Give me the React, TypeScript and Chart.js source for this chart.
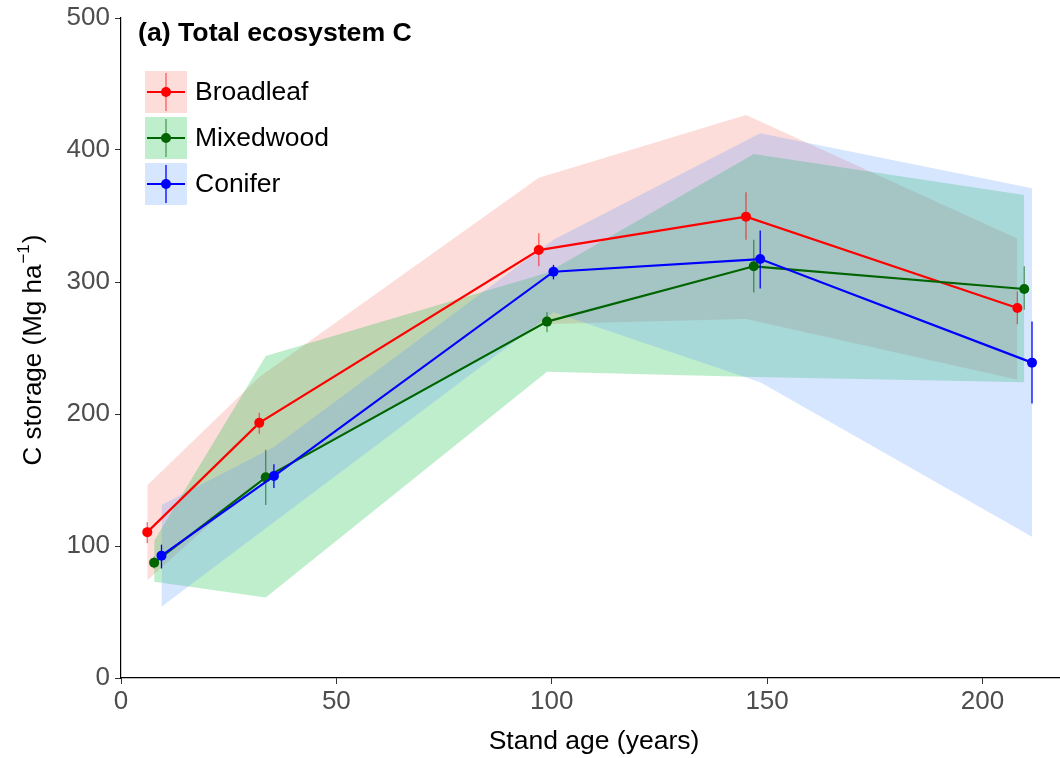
import { useEffect, useRef } from "react";
import { Chart, registerables } from "chart.js";
Chart.register(...registerables);

const FONT = '"Liberation Sans", Arial, Helvetica, sans-serif';

// Tick values
const xTicks = [0, 50, 100, 150, 200];
const yTicks = [0, 100, 200, 300, 400, 500];

// Broadleaf
const ageBroadleaf = [6.1, 32.1, 97.0, 145.1, 208.1];
const meanBroadleaf = [110.5, 193.3, 324.2, 349.5, 280.3];
const errLoBroadleaf = [102, 185, 312, 332, 268];
const errHiBroadleaf = [118, 201, 337, 368, 293];
const rangeHiBroadleaf = [146, 228, 379, 426.5, 333];
const rangeLoBroadleaf = [74, 150, 268, 272, 226];

// Mixedwood
const ageMixedwood = [7.7, 33.6, 98.9, 146.9, 209.7];
const meanMixedwood = [87.4, 152, 270, 311.9, 294.7];
const errLoMixedwood = [83, 131, 262, 292, 279];
const errHiMixedwood = [92, 173, 277, 332, 312];
const rangeHiMixedwood = [104, 244, 307, 397, 366];
const rangeLoMixedwood = [73, 61, 232, 228, 224];

// Conifer
const ageConifer = [9.4, 35.5, 100.4, 148.4, 211.5];
const meanConifer = [92.7, 153, 307.8, 317.4, 238.9];
const errLoConifer = [83, 144, 302, 295, 208];
const errHiConifer = [101, 162, 313, 339, 270];
const rangeHiConifer = [131, 175, 332, 412.6, 371];
const rangeLoConifer = [54, 118, 277, 224, 107];

const seriesNames = ["Broadleaf", "Mixedwood", "Conifer"];
const lineColors = ["#FF0000", "#006400", "#0000FF"];
const ribbonColors = [
  "rgba(248,118,109,0.25)",
  "rgba(0,186,56,0.25)",
  "rgba(97,156,255,0.25)",
];

const pts = (xs: number[], ys: number[]) => xs.map((x, i) => ({ x, y: ys[i] }));

const series = [
  { age: ageBroadleaf, mean: meanBroadleaf, lo: errLoBroadleaf, hi: errHiBroadleaf, rHi: rangeHiBroadleaf, rLo: rangeLoBroadleaf },
  { age: ageMixedwood, mean: meanMixedwood, lo: errLoMixedwood, hi: errHiMixedwood, rHi: rangeHiMixedwood, rLo: rangeLoMixedwood },
  { age: ageConifer, mean: meanConifer, lo: errLoConifer, hi: errHiConifer, rHi: rangeHiConifer, rLo: rangeLoConifer },
];

export default function App() {
  const ref = useRef<HTMLCanvasElement>(null);
  useEffect(() => {
    document.body.style.margin = "0";
    const canvas = ref.current!;

    const lineOrderIdx = [2, 1, 0];
    const datasets: any[] = [];
    lineOrderIdx.forEach((s, k) => {
      datasets.push({
        label: seriesNames[s],
        data: pts(series[s].age, series[s].mean),
        borderColor: lineColors[s],
        backgroundColor: lineColors[s],
        borderWidth: 2.2,
        pointRadius: 5,
        pointBorderWidth: 0,
        pointBackgroundColor: lineColors[s],
        fill: false,
        order: k + 1,
        tension: 0,
        _series: s,
      });
    });
    lineOrderIdx.forEach((s, k) => {
      datasets.push({
        label: seriesNames[s] + " range hi",
        data: pts(series[s].age, series[s].rHi),
        borderWidth: 0,
        borderColor: "rgba(0,0,0,0)",
        pointRadius: 0,
        fill: false,
        order: 10 + k,
      });
      datasets.push({
        label: seriesNames[s] + " range lo",
        data: pts(series[s].age, series[s].rLo),
        borderWidth: 0,
        borderColor: "rgba(0,0,0,0)",
        pointRadius: 0,
        backgroundColor: ribbonColors[s],
        fill: "-1",
        order: 10 + k,
      });
    });

    const errorBars = {
      id: "errorBars",
      beforeDatasetDraw(chart: any, args: any) {
        const ds = chart.data.datasets[args.index];
        if (ds._series === undefined) return;
        const s = ds._series;
        const ctx = chart.ctx;
        const xs = chart.scales.x;
        const ys = chart.scales.y;
        ctx.save();
        ctx.strokeStyle = lineColors[s];
        ctx.globalAlpha = s === 2 ? 1 : 0.6;
        ctx.lineWidth = 1.3;
        series[s].age.forEach((a, i) => {
          const px = xs.getPixelForValue(a);
          ctx.beginPath();
          ctx.moveTo(px, ys.getPixelForValue(series[s].lo[i]));
          ctx.lineTo(px, ys.getPixelForValue(series[s].hi[i]));
          ctx.stroke();
        });
        ctx.restore();
      },
    };

    const decorations = {
      id: "decorations",
      afterDraw(chart: any) {
        const ctx = chart.ctx;
        ctx.save();
        ctx.fillStyle = "#000";
        ctx.font = `bold 26.7px ${FONT}`;
        ctx.textAlign = "left";
        ctx.textBaseline = "alphabetic";
        ctx.fillText("(a) Total ecosystem C", 138, 41);

        for (let i = 0; i < 3; i++) {
          const bx = 145, by = 71 + i * 46, bw = 42, bh = 42;
          const cx = bx + bw / 2, cy = by + bh / 2;
          ctx.fillStyle = ribbonColors[i];
          ctx.fillRect(bx, by, bw, bh);
          ctx.strokeStyle = lineColors[i];
          ctx.globalAlpha = i === 2 ? 1 : 0.6;
          ctx.lineWidth = 1.3;
          ctx.beginPath();
          ctx.moveTo(cx, by + 2);
          ctx.lineTo(cx, by + bh - 2);
          ctx.stroke();
          ctx.globalAlpha = 1;
          ctx.lineWidth = 2.2;
          ctx.beginPath();
          ctx.moveTo(bx + 2, cy);
          ctx.lineTo(bx + bw - 2, cy);
          ctx.stroke();
          ctx.fillStyle = lineColors[i];
          ctx.beginPath();
          ctx.arc(cx, cy, 5, 0, Math.PI * 2);
          ctx.fill();
          ctx.fillStyle = "#000";
          ctx.font = `26.5px ${FONT}`;
          ctx.textBaseline = "middle";
          ctx.fillText(seriesNames[i], 195, cy + 1);
        }

        ctx.textBaseline = "alphabetic";
        ctx.textAlign = "center";
        ctx.font = `26.5px ${FONT}`;
        ctx.fillStyle = "#000";
        ctx.fillText("Stand age (years)", 594, 749);

        ctx.translate(41, 351);
        ctx.rotate(-Math.PI / 2);
        ctx.textAlign = "left";
        const main = "C storage (Mg ha";
        const sup = "\u22121";
        const tail = ")";
        ctx.font = `26px ${FONT}`;
        const w1 = ctx.measureText(main).width;
        const w3 = ctx.measureText(tail).width;
        ctx.font = `17px ${FONT}`;
        const w2 = ctx.measureText(sup).width;
        const total = w1 + w2 + w3;
        const x0 = -total / 2;
        ctx.font = `26px ${FONT}`;
        ctx.fillText(main, x0, 0);
        ctx.font = `17px ${FONT}`;
        ctx.fillText(sup, x0 + w1 + 1, -12);
        ctx.font = `26px ${FONT}`;
        ctx.fillText(tail, x0 + w1 + w2 + 2, 0);
        ctx.restore();
      },
    };

    const chart = new Chart(canvas, {
      type: "line",
      data: { datasets },
      options: {
        animation: false,
        responsive: false,
        layout: { autoPadding: false, padding: { top: 18, right: 0, left: 0, bottom: 0 } },
        plugins: {
          legend: { display: false },
          tooltip: { enabled: false },
          title: { display: false },
        },
        scales: {
          x: {
            type: "linear",
            min: 0,
            max: 218,
            afterBuildTicks: (s: any) => {
              s.ticks = xTicks.map((v) => ({ value: v }));
            },
            afterFit: (s: any) => {
              s.height = 80;
              s.paddingRight = 0;
              s.paddingLeft = 0;
            },
            ticks: {
              font: { size: 26, family: FONT },
              color: "#4D4D4D",
              padding: 2,
              maxRotation: 0,
              autoSkip: false,
            },
            grid: {
              drawOnChartArea: false,
              drawTicks: true,
              tickLength: 6,
              color: "#333333",
              lineWidth: 1,
            },
            border: { display: true, color: "#000", width: 1.2 },
          },
          y: {
            type: "linear",
            min: 0,
            max: 500,
            afterBuildTicks: (s: any) => {
              s.ticks = yTicks.map((v) => ({ value: v }));
            },
            afterFit: (s: any) => {
              s.width = 121;
              s.paddingTop = 0;
              s.paddingBottom = 0;
            },
            ticks: {
              font: { size: 26, family: FONT },
              color: "#4D4D4D",
              padding: 5,
              autoSkip: false,
            },
            grid: {
              drawOnChartArea: false,
              drawTicks: true,
              tickLength: 6,
              color: "#333333",
              lineWidth: 1,
            },
            border: { display: true, color: "#000", width: 1.2 },
          },
        },
      },
      plugins: [errorBars, decorations],
    });
    return () => chart.destroy();
  }, []);
  return (
    <div style={{ width: 1060, height: 758 }}>
      <canvas ref={ref} width={1060} height={758} style={{ display: "block" }} />
    </div>
  );
}
